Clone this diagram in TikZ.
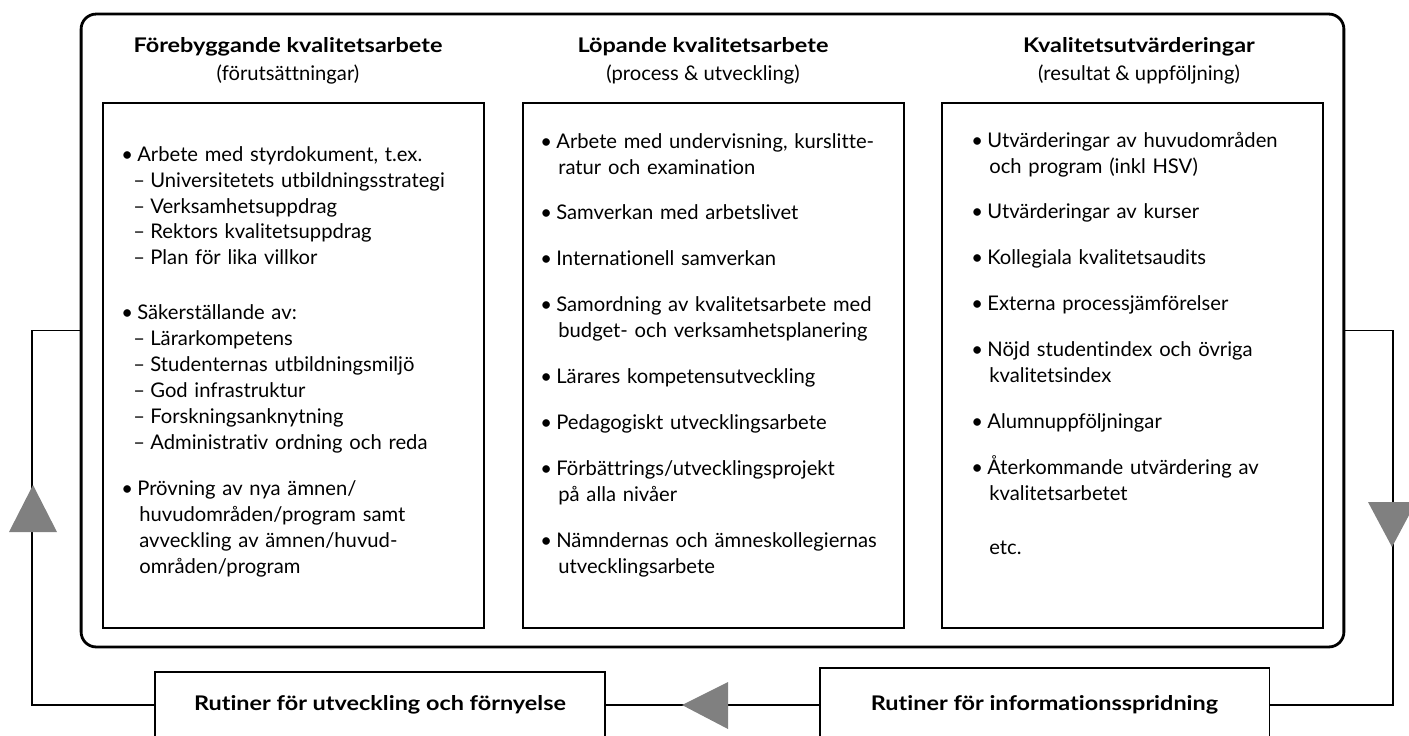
\documentclass[tikz,border=0pt]{standalone}
\usepackage{fontspec}
\setmainfont{Lato}[Ligatures={NoCommon}]
\definecolor{tipgray}{RGB}{128,128,128}
\newcommand{\bul}{\makebox[0.32cm][l]{\textbullet}}
\newcommand{\dsh}{\hspace*{0.24cm}\makebox[0.34cm][l]{--}}
\newcommand{\cnt}{\hspace*{0.36cm}}
\newcommand{\txtsize}{\fontsize{11.5pt}{0.52cm}\selectfont}
\newcommand{\headfont}{\txtsize\bfseries\addfontfeature{FakeStretch=1.16}}
\tikzset{
  frame/.style={draw,line width=1.6pt,rounded corners=0.3cm,minimum width=25.26cm,minimum height=12.66cm},
  column/.style={draw,line width=1.1pt,minimum width=7.62cm,minimum height=10.5cm},
  routine/.style={draw,line width=1.1pt,minimum width=9cm,font=\headfont},
  items/.style={anchor=base west,inner sep=0pt,text width=7.2cm,align=left},
  link/.style={line width=1.1pt},
  tip/.style={fill=tipgray}
}
\begin{document}
\begin{tikzpicture}[x=0.02cm,y=-0.02cm,font=\txtsize]
\useasboundingbox (0,0) rectangle (1409,735);
\clip (0,0) rectangle (1409,735);
\node[frame] (outer) at (712.5,330.5) {};
\node[column] (prev) at (293.5,365.5) {};
\node[column] (run) at (713.5,365.5) {};
\node[column] (eval) at (1132.5,365.5) {};
\foreach \x/\head/\sub in {288/F\"orebyggande kvalitetsarbete/(f\"oruts\"attningar),
  703/L\"opande kvalitetsarbete/(process \& utveckling),
  1139/Kvalitetsutv\"arderingar/(resultat \& uppf\"oljning)}
{
  \node[anchor=base,font=\headfont] at (\x,52) {\head};
  \node[anchor=base] at (\x,80) {\sub};
}
\node[items] (prevtext) at (121,161) {%
\bul Arbete med styrdokument, t.ex.\\
\dsh Universitetets utbildningsstrategi\\
\dsh Verksamhetsuppdrag\\
\dsh Rektors kvalitetsuppdrag\\
\dsh Plan för lika villkor\\[0.58cm]
\bul Säkerställande av:\\
\dsh Lärarkompetens\\
\dsh Studenternas utbildningsmiljö\\
\dsh God infrastruktur\\
\dsh Forskningsanknytning\\
\dsh Administrativ ordning och reda\\[0.4cm]
\bul Prövning av nya ämnen/\\
\cnt huvudområden/program samt\\
\cnt avveckling av ämnen/huvud-\\
\cnt områden/program};
\node[items] (runtext) at (540,148) {%
\bul Arbete med undervisning, kurslitte-\\
\cnt ratur och examination\\[0.4cm]
\bul Samverkan med arbetslivet\\[0.4cm]
\bul Internationell samverkan\\[0.4cm]
\bul Samordning av kvalitetsarbete med\\
\cnt budget- och verksamhetsplanering\\[0.4cm]
\bul Lärares kompetensutveckling\\[0.4cm]
\bul Pedagogiskt utvecklingsarbete\\[0.4cm]
\bul Förbättrings/utvecklingsprojekt\\
\cnt på alla nivåer\\[0.4cm]
\bul Nämndernas och ämneskollegiernas\\
\cnt utvecklingsarbete};
\node[items] (evaltext) at (971,147) {%
\bul Utvärderingar av huvudområden\\
\cnt och program (inkl HSV)\\[0.4cm]
\bul Utvärderingar av kurser\\[0.4cm]
\bul Kollegiala kvalitetsaudits\\[0.4cm]
\bul Externa processjämförelser\\[0.4cm]
\bul Nöjd studentindex och övriga\\
\cnt kvalitetsindex\\[0.4cm]
\bul Alumnuppföljningar\\[0.4cm]
\bul Återkommande utvärdering av\\
\cnt kvalitetsarbetet\\[0.56cm]
\cnt etc.};
\node[routine,minimum height=1.32cm] (renew) at (380,705) {Rutiner för utveckling och förnyelse};
\node[routine,minimum height=1.48cm] (inform) at (1044.5,705) {Rutiner för informationsspridning};
\draw[link] (outer.east) -- ++(48,0) |- (inform.east);
\draw[link] (inform.west) -- (renew.east);
\draw[link] (renew.west) -- ++(-122,0) |- (outer.west);
\fill[tip] (1368,502) -- (1416,502) -- (1392,547) -- cycle;
\fill[tip] (682,705) -- (728,682) -- (728,729) -- cycle;
\fill[tip] (33,485) -- (57,532) -- (9,532) -- cycle;
\end{tikzpicture}
\end{document}
